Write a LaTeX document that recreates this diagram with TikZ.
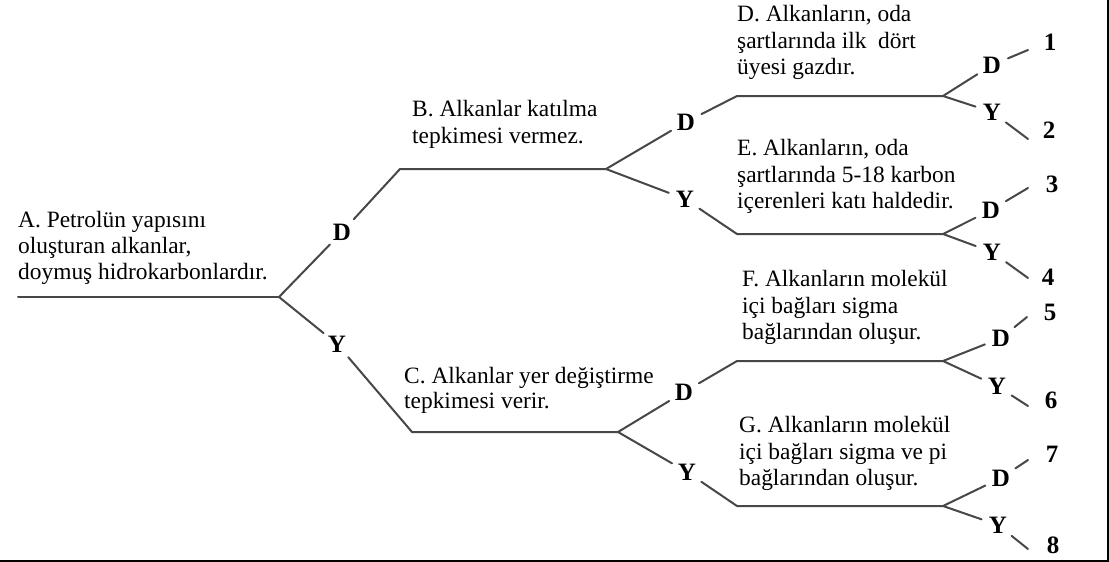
\documentclass[tikz,border=0pt]{standalone}
\usepackage{fontspec}
\setmainfont{Liberation Serif}
\begin{document}
\begin{tikzpicture}[x=1pt,y=-1pt,
  txt/.style={anchor=base west, inner sep=0pt, font=\fontsize{23.4}{26}\selectfont, text=black},
  lbl/.style={circle, inner sep=3.5pt, font=\fontsize{25}{28}\selectfont\bfseries, text=black},
  num/.style={inner sep=0pt, font=\fontsize{25}{28}\selectfont\bfseries, text=black},
  edge/.style={draw=black!72, line width=2pt, line cap=round, line join=round}]
\useasboundingbox (0,0) rectangle (1109,562);
\fill[white] (0,0) rectangle (1109,562);
\draw[line width=2.2pt] (1108,0) -- (1108,561) -- (0,561);

% branch coordinates
\coordinate (a0) at (18,297);  \coordinate (ab) at (279,297);
\coordinate (b0) at (400,169); \coordinate (bb) at (606,169);
\coordinate (c0) at (412,432); \coordinate (cb) at (618,432);
\coordinate (d0) at (737,96);  \coordinate (db) at (943,96);
\coordinate (e0) at (737,234); \coordinate (eb) at (943,234);
\coordinate (f0) at (737,361); \coordinate (fb) at (943,361);
\coordinate (g0) at (737,506); \coordinate (gb) at (943,506);
\coordinate (t1) at (1028,50);  \coordinate (t2) at (1028,139);
\coordinate (t3) at (1028,188); \coordinate (t4) at (1028,278);
\coordinate (t5) at (1027,317); \coordinate (t6) at (1028,406);
\coordinate (t7) at (1028,460); \coordinate (t8) at (1028,549);

% texts
\node[txt] (A1) at (18,227) {A. Petrolün yapısını};
\node[txt] (A2) at (18,253) {oluşturan alkanlar,};
\node[txt] (A3) at (18,279) {doymuş hidrokarbonlardır.};
\node[txt] (B1) at (412,116) {B. Alkanlar katılma};
\node[txt] (B2) at (412,143) {tepkimesi vermez.};
\node[txt] (C1) at (404,383) {C. Alkanlar yer değiştirme};
\node[txt] (C2) at (404,408) {tepkimesi verir.};
\node[txt] (D1) at (737,21) {D. Alkanların, oda};
\node[txt] (D2) at (737,48) {şartlarında ilk\ \ dört};
\node[txt] (D3) at (737,74) {üyesi gazdır.};
\node[txt] (E1) at (737,155) {E. Alkanların, oda};
\node[txt] (E2) at (737,182) {şartlarında 5-18 karbon};
\node[txt] (E3) at (737,208) {içerenleri katı haldedir.};
\node[txt] (F1) at (742,286) {F. Alkanların molekül};
\node[txt] (F2) at (742,313) {içi bağları sigma};
\node[txt] (F3) at (742,339) {bağlarından oluşur.};
\node[txt] (G1) at (739,432) {G. Alkanların molekül};
\node[txt] (G2) at (739,459) {içi bağları sigma ve pi};
\node[txt] (G3) at (739,485) {bağlarından oluşur.};

% D / Y labels
\node[lbl] (LD1) at (342,232) {D};
\node[lbl] (LY1) at (337,344) {Y};
\node[lbl] (LD2) at (686,122) {D};
\node[lbl] (LY2) at (685,199) {Y};
\node[lbl] (LD5) at (684,392) {D};
\node[lbl] (LY5) at (687,472) {Y};
\node[lbl] (LD3) at (992,65) {D};
\node[lbl] (LY3) at (992,112) {Y};
\node[lbl] (LD4) at (991,210) {D};
\node[lbl] (LY4) at (992,252) {Y};
\node[lbl] (LD6) at (1001,338) {D};
\node[lbl] (LY6) at (997,386) {Y};
\node[lbl] (LD7) at (1001,478) {D};
\node[lbl] (LY7) at (998,525) {Y};

% numbers
\node[num] (n1) at (1050,42) {1};
\node[num] (n2) at (1049,130) {2};
\node[num] (n3) at (1052,184) {3};
\node[num] (n4) at (1048,277) {4};
\node[num] (n5) at (1050,312) {5};
\node[num] (n6) at (1051,400) {6};
\node[num] (n7) at (1052,454) {7};
\node[num] (n8) at (1053,545) {8};

% connectors
\draw[edge] (a0) -- (ab);
\draw[edge] (ab) -- (LD1); \draw[edge] (LD1) -- (b0) -- (bb);
\draw[edge] (ab) -- (LY1); \draw[edge] (LY1) -- (c0) -- (cb);
\draw[edge] (bb) -- (LD2); \draw[edge] (LD2) -- (d0) -- (db);
\draw[edge] (bb) -- (LY2); \draw[edge] (LY2) -- (e0) -- (eb);
\draw[edge] (cb) -- (LD5); \draw[edge] (LD5) -- (f0) -- (fb);
\draw[edge] (cb) -- (LY5); \draw[edge] (LY5) -- (g0) -- (gb);
\draw[edge] (db) -- (LD3); \draw[edge] (LD3) -- (t1);
\draw[edge] (db) -- (LY3); \draw[edge] (LY3) -- (t2);
\draw[edge] (eb) -- (LD4); \draw[edge] (LD4) -- (t3);
\draw[edge] (eb) -- (LY4); \draw[edge] (LY4) -- (t4);
\draw[edge] (fb) -- (LD6); \draw[edge] (LD6) -- (t5);
\draw[edge] (fb) -- (LY6); \draw[edge] (LY6) -- (t6);
\draw[edge] (gb) -- (LD7); \draw[edge] (LD7) -- (t7);
\draw[edge] (gb) -- (LY7); \draw[edge] (LY7) -- (t8);
\end{tikzpicture}
\end{document}
